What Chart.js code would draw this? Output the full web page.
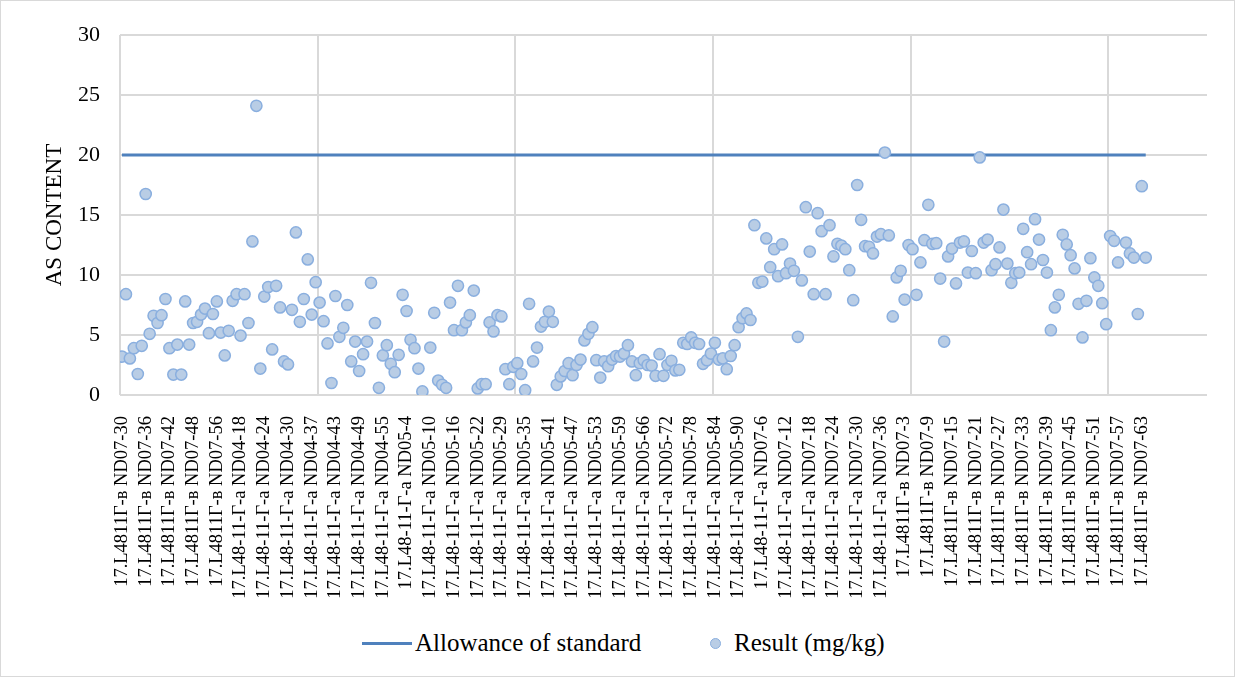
<!DOCTYPE html>
<html>
<head>
<meta charset="utf-8">
<script src="https://cdn.jsdelivr.net/npm/chart.js@4.4.1/dist/chart.umd.min.js"></script>
<style>
  html, body { margin: 0; padding: 0; background: #fff; }
  #frame {
    position: relative;
    width: 1235px;
    height: 677px;
    box-sizing: border-box;
    border: 1px solid #d9d9d9;
    font-family: 'Liberation Serif', 'Times New Roman', serif;
  }
  #box { position: relative; width: 1233px; height: 620px; }
  .legend-item {
    position: absolute;
    top: 627px;
    height: 30px;
    display: flex;
    align-items: center;
    font-size: 25px;
    color: #000;
    white-space: nowrap;
  }
  .swatch-line { width: 50px; height: 3px; background: #4f81bd; margin-right: 3px; }
  .swatch-dot {
    width: 9px; height: 9px; border-radius: 50%;
    background: #b9cde5; border: 1.5px solid #8aafdf;
    margin-right: 13px;
  }
</style>
</head>
<body>
<div id="frame">
  <div id="box"><canvas id="chart"></canvas></div>
  <div class="legend-item" style="left: 361px;"><span class="swatch-line"></span>Allowance of standard</div>
  <div class="legend-item" style="left: 709px;"><span class="swatch-dot"></span>Result (mg/kg)</div>
</div>
<script>
// labels shown on the axis, one every 6 samples
const tickLabels = [
    '17.L4811Г-в ND07-30', '17.L4811Г-в ND07-36', '17.L4811Г-в ND07-42', '17.L4811Г-в ND07-48',
    '17.L4811Г-в ND07-56', '17.L48-11-Г-а ND04-18', '17.L48-11-Г-а ND04-24', '17.L48-11-Г-а ND04-30',
    '17.L48-11-Г-а ND04-37', '17.L48-11-Г-а ND04-43', '17.L48-11-Г-а ND04-49', '17.L48-11-Г-а ND04-55',
    '17.L48-11-Г-а ND05-4', '17.L48-11-Г-а ND05-10', '17.L48-11-Г-а ND05-16', '17.L48-11-Г-а ND05-22',
    '17.L48-11-Г-а ND05-29', '17.L48-11-Г-а ND05-35', '17.L48-11-Г-а ND05-41', '17.L48-11-Г-а ND05-47',
    '17.L48-11-Г-а ND05-53', '17.L48-11-Г-а ND05-59', '17.L48-11-Г-а ND05-66', '17.L48-11-Г-а ND05-72',
    '17.L48-11-Г-а ND05-78', '17.L48-11-Г-а ND05-84', '17.L48-11-Г-а ND05-90', '17.L48-11-Г-а ND07-6',
    '17.L48-11-Г-а ND07-12', '17.L48-11-Г-а ND07-18', '17.L48-11-Г-а ND07-24', '17.L48-11-Г-а ND07-30',
    '17.L48-11-Г-а ND07-36', '17.L4811Г-в ND07-3', '17.L4811Г-в ND07-9', '17.L4811Г-в ND07-15',
    '17.L4811Г-в ND07-21', '17.L4811Г-в ND07-27', '17.L4811Г-в ND07-33', '17.L4811Г-в ND07-39',
    '17.L4811Г-в ND07-45', '17.L4811Г-в ND07-51', '17.L4811Г-в ND07-57', '17.L4811Г-в ND07-63'
];
const labelEvery = 6;
const slots = 275;       // category slots on the axis (last ones are empty)
const gridEvery = 50;    // vertical gridline every 50 slots

// As content per sample, mg/kg
const results = [
    3.2, 8.4, 3.05, 3.9, 1.75, 4.1, 16.75, 5.1, 6.6, 6.0,
    6.65, 8.0, 3.9, 1.7, 4.2, 1.7, 7.8, 4.2, 6.0, 6.1,
    6.7, 7.2, 5.15, 6.75, 7.8, 5.2, 3.3, 5.35, 7.85, 8.4,
    4.95, 8.4, 6.0, 12.8, 24.1, 2.2, 8.2, 9.0, 3.8, 9.1,
    7.3, 2.8, 2.55, 7.1, 13.55, 6.1, 8.0, 11.3, 6.7, 9.4,
    7.7, 6.15, 4.3, 1.0, 8.25, 4.85, 5.6, 7.5, 2.8, 4.45,
    2.0, 3.4, 4.45, 9.35, 6.0, 0.6, 3.3, 4.15, 2.6, 1.9,
    3.35, 8.35, 7.0, 4.6, 3.9, 2.2, 0.3, null, 3.95, 6.85,
    1.2, 0.85, 0.6, 7.7, 5.4, 9.1, 5.4, 6.05, 6.65, 8.7,
    0.55, 0.9, 0.9, 6.05, 5.3, 6.65, 6.55, 2.15, 0.9, 2.35,
    2.65, 1.75, 0.4, 7.6, 2.8, 3.95, 5.7, 6.1, 6.95, 6.1,
    0.85, 1.55, 2.0, 2.65, 1.65, 2.5, 2.95, 4.55, 5.1, 5.65,
    2.9, 1.45, 2.8, 2.4, 2.95, 3.25, 3.2, 3.45, 4.15, 2.8,
    1.65, 2.65, 2.9, 2.5, 2.45, 1.6, 3.4, 1.6, 2.5, 2.85,
    2.05, 2.1, 4.35, 4.25, 4.8, 4.35, 4.25, 2.6, 2.9, 3.45,
    4.35, 2.95, 3.05, 2.15, 3.25, 4.15, 5.65, 6.4, 6.8, 6.25,
    14.15, 9.35, 9.45, 13.05, 10.65, 12.15, 9.9, 12.55, 10.15, 10.95,
    10.35, 4.85, 9.55, 15.65, 11.95, 8.4, 15.15, 13.65, 8.4, 14.15,
    11.55, 12.6, 12.45, 12.15, 10.4, 7.9, 17.5, 14.6, 12.4, 12.35,
    11.8, 13.2, 13.4, 20.2, 13.3, 6.55, 9.8, 10.35, 7.95, 12.5,
    12.15, 8.35, 11.05, 12.9, 15.85, 12.6, 12.65, 9.7, 4.45, 11.55,
    12.2, 9.3, 12.7, 12.8, 10.2, 12.0, 10.15, 19.8, 12.7, 12.95,
    10.4, 10.9, 12.3, 15.45, 10.95, 9.35, 10.15, 10.2, 13.85, 11.9,
    10.9, 14.65, 12.95, 11.25, 10.2, 5.4, 7.3, 8.35, 13.35, 12.55,
    11.65, 10.55, 7.6, 4.8, 7.85, 11.4, 9.8, 9.1, 7.65, 5.9,
    13.25, 12.85, 11.05, null, 12.7, 11.8, 11.45, 6.75, 17.4, 11.45
];
const allowance = 20;   // permitted level, mg/kg

const yTicks = [0, 5, 10, 15, 20, 25, 30];

const serif = "'Liberation Serif', 'Times New Roman', serif";

document.addEventListener('DOMContentLoaded', function () {
    const ctx = document.getElementById('chart').getContext('2d');

    new Chart(ctx, {
        type: 'scatter',
        data: {
            datasets: [{
                label: 'Allowance of standard',
                data: results.map((v, i) => ({ x: i, y: allowance })),
                showLine: true,
                borderColor: '#4f81bd',
                borderWidth: 3,
                pointRadius: 0,
                order: 1
            }, {
                label: 'Result (mg/kg)',
                data: results.map((v, i) => ({ x: i, y: v })),
                backgroundColor: '#b9cde5',
                borderColor: '#8aafdf',
                borderWidth: 1.5,
                pointRadius: 5.6,
                order: 0
            }]
        },
        options: {
            responsive: true,
            maintainAspectRatio: false,
            animation: false,
            events: [],
            layout: { padding: { top: 34, right: 27, left: 0, bottom: 0 } },
            plugins: {
                legend: { display: false },
                tooltip: { enabled: false }
            },
            scales: {
                x: {
                    type: 'linear',
                    position: 'bottom',
                    min: -0.5,
                    max: slots - 0.5,
                    afterBuildTicks: function (axis) {
                        axis.ticks = tickLabels.map((t, i) => ({ value: i * labelEvery }));
                    },
                    afterFit: function (axis) { axis.height = 226; },
                    grid: { display: false },
                    border: { display: false },
                    ticks: {
                        autoSkip: false,
                        minRotation: 90,
                        maxRotation: 90,
                        padding: 13,
                        color: '#000',
                        font: { family: serif, size: 18.5 },
                        callback: function (value, index) { return tickLabels[index]; }
                    }
                },
                xGrid: {
                    type: 'linear',
                    position: 'bottom',
                    min: -0.5,
                    max: slots - 0.5,
                    afterBuildTicks: function (axis) {
                        const t = [];
                        for (let v = -0.5; v < slots - 1; v += gridEvery) t.push({ value: v });
                        axis.ticks = t;
                    },
                    afterFit: function (axis) { axis.height = 0; },
                    grid: { color: '#d9d9d9', lineWidth: 2, drawTicks: false },
                    border: { display: false },
                    ticks: { display: false }
                },
                y: {
                    min: 0,
                    max: 30,
                    afterBuildTicks: function (axis) {
                        axis.ticks = yTicks.map(v => ({ value: v }));
                    },
                    afterFit: function (axis) { axis.width = 119; },
                    grid: { color: '#d9d9d9', lineWidth: 2, drawTicks: false },
                    border: { display: false },
                    ticks: {
                        padding: 20,
                        color: '#000',
                        font: { family: serif, size: 22 }
                    },
                    title: {
                        display: true,
                        text: 'AS CONTENT',
                        color: '#000',
                        padding: { top: 40, bottom: 0 },
                        font: { family: serif, size: 23 }
                    }
                }
            }
        }
    });
});
</script>
</body>
</html>
